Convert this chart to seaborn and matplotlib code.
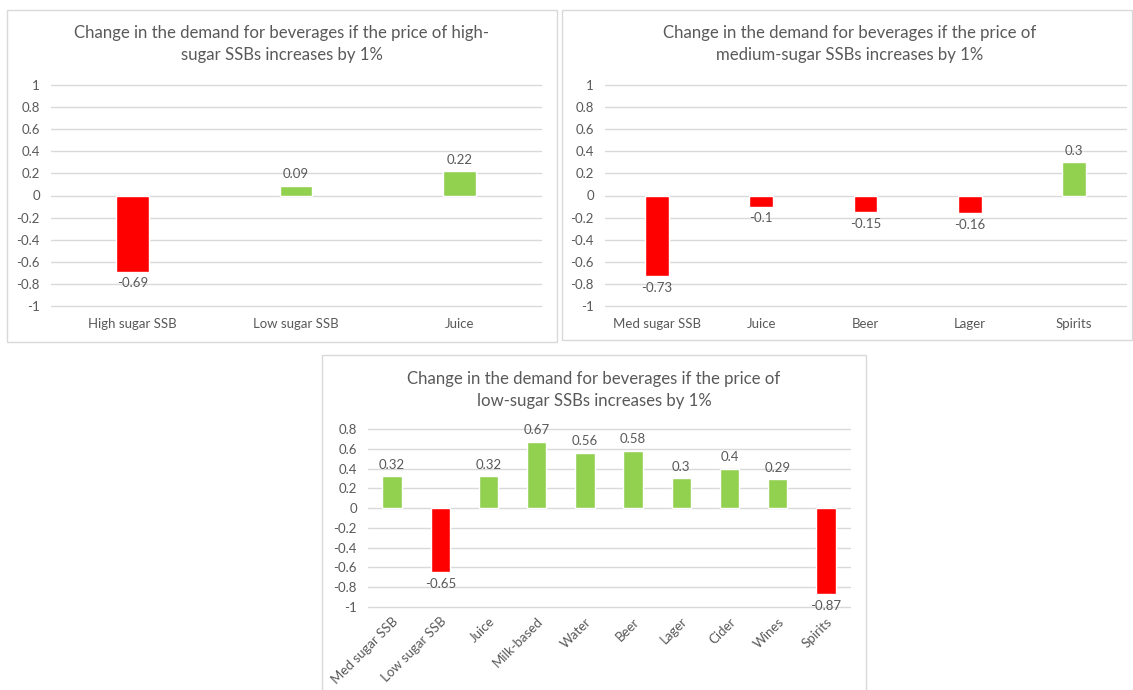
import pandas as pd
import matplotlib.pyplot as plt
import seaborn as sns
from matplotlib.patches import Rectangle

# --- data ---
high_cats = ["High sugar SSB", "Low sugar SSB", "Juice"]
high_vals = [-0.69, 0.09, 0.22]

med_cats = ["Med sugar SSB", "Juice", "Beer", "Lager", "Spirits"]
med_vals = [-0.73, -0.1, -0.15, -0.16, 0.3]

low_cats = ["Med sugar SSB", "Low sugar SSB", "Juice", "Milk-based", "Water",
            "Beer", "Lager", "Cider", "Wines", "Spirits"]
low_vals = [0.32, -0.65, 0.32, 0.67, 0.56, 0.58, 0.3, 0.4, 0.29, -0.87]

titles = [
    "Change in the demand for beverages if the price of high-\nsugar SSBs increases by 1%",
    "Change in the demand for beverages if the price of\nmedium-sugar SSBs increases by 1%",
    "Change in the demand for beverages if the price of\nlow-sugar SSBs increases by 1%",
]

sns.set_style("white")
plt.rcParams["font.family"] = ["Lato", "DejaVu Sans"]

GREEN = "#92D050"
RED = "#FF0000"
GREY = "#595959"
GRID = "#D9D9D9"
W, H = 1133, 690

fig = plt.figure(figsize=(W / 100, H / 100), dpi=100)


def px_axes(left, right, top, bottom):
    return fig.add_axes([left / W, 1 - bottom / H, (right - left) / W, (bottom - top) / H])


def panel_box(left, right, top, bottom):
    fig.patches.append(Rectangle((left / W, 1 - bottom / H), (right - left) / W, (bottom - top) / H,
                                 transform=fig.transFigure, fill=False, edgecolor=GRID, lw=1))


def draw(ax, cats, vals, ylim, yticks, width, rot=0):
    df = pd.DataFrame({"cat": cats, "val": vals})
    df["sign"] = ["pos" if v >= 0 else "neg" for v in vals]
    sns.barplot(data=df, x="cat", y="val", hue="sign", palette={"pos": GREEN, "neg": RED},
                dodge=False, width=width, legend=False, ax=ax, saturation=1)
    for c in ax.containers:
        ax.bar_label(c, fmt="{:g}", padding=4, color=GREY, fontsize=9.5)
    ax.set_ylim(*ylim)
    ax.set_xlim(-0.5, len(cats) - 0.5)
    ax.set_yticks(yticks)
    ax.set_yticklabels(["{:g}".format(round(t, 1)) for t in yticks])
    ax.yaxis.grid(True, color=GRID, lw=1)
    for gl in ax.get_ygridlines():
        gl.set_clip_on(False)
    ax.set_axisbelow(True)
    sns.despine(ax=ax, left=True, bottom=True)
    ax.tick_params(axis="both", length=0, labelsize=9.5, labelcolor=GREY)
    ax.tick_params(axis="y", pad=8)
    ax.set_xlabel("")
    ax.set_ylabel("")
    if rot:
        plt.setp(ax.get_xticklabels(), rotation=rot, ha="right", rotation_mode="anchor")
        ax.tick_params(axis="x", pad=6)
    else:
        ax.tick_params(axis="x", pad=9)


ticks_full = [-1, -0.8, -0.6, -0.4, -0.2, 0, 0.2, 0.4, 0.6, 0.8, 1]
ticks_low = [-1, -0.8, -0.6, -0.4, -0.2, 0, 0.2, 0.4, 0.6, 0.8]

# --- panel 1 ---
panel_box(7, 557, 10, 342)
ax1 = px_axes(51, 541, 85, 306)
draw(ax1, high_cats, high_vals, (-1, 1), ticks_full, 0.2)
fig.text(282 / W, 1 - 44 / H, titles[0], ha="center", va="center", fontsize=12.1,
         color=GREY, linespacing=1.45)

# --- panel 2 ---
panel_box(562, 1132, 10, 340)
ax2 = px_axes(605, 1126, 85, 306)
draw(ax2, med_cats, med_vals, (-1, 1), ticks_full, 0.23)
fig.text(850 / W, 1 - 44 / H, titles[1], ha="center", va="center", fontsize=12.1,
         color=GREY, linespacing=1.45)

# --- panel 3 ---
panel_box(322, 866, 355, 700)
ax3 = px_axes(368, 850, 429, 607)
draw(ax3, low_cats, low_vals, (-1, 0.8), ticks_low, 0.4, rot=45)
fig.text(594 / W, 1 - 390 / H, titles[2], ha="center", va="center", fontsize=12.1,
         color=GREY, linespacing=1.45)

fig.savefig("out.png", dpi=100)
